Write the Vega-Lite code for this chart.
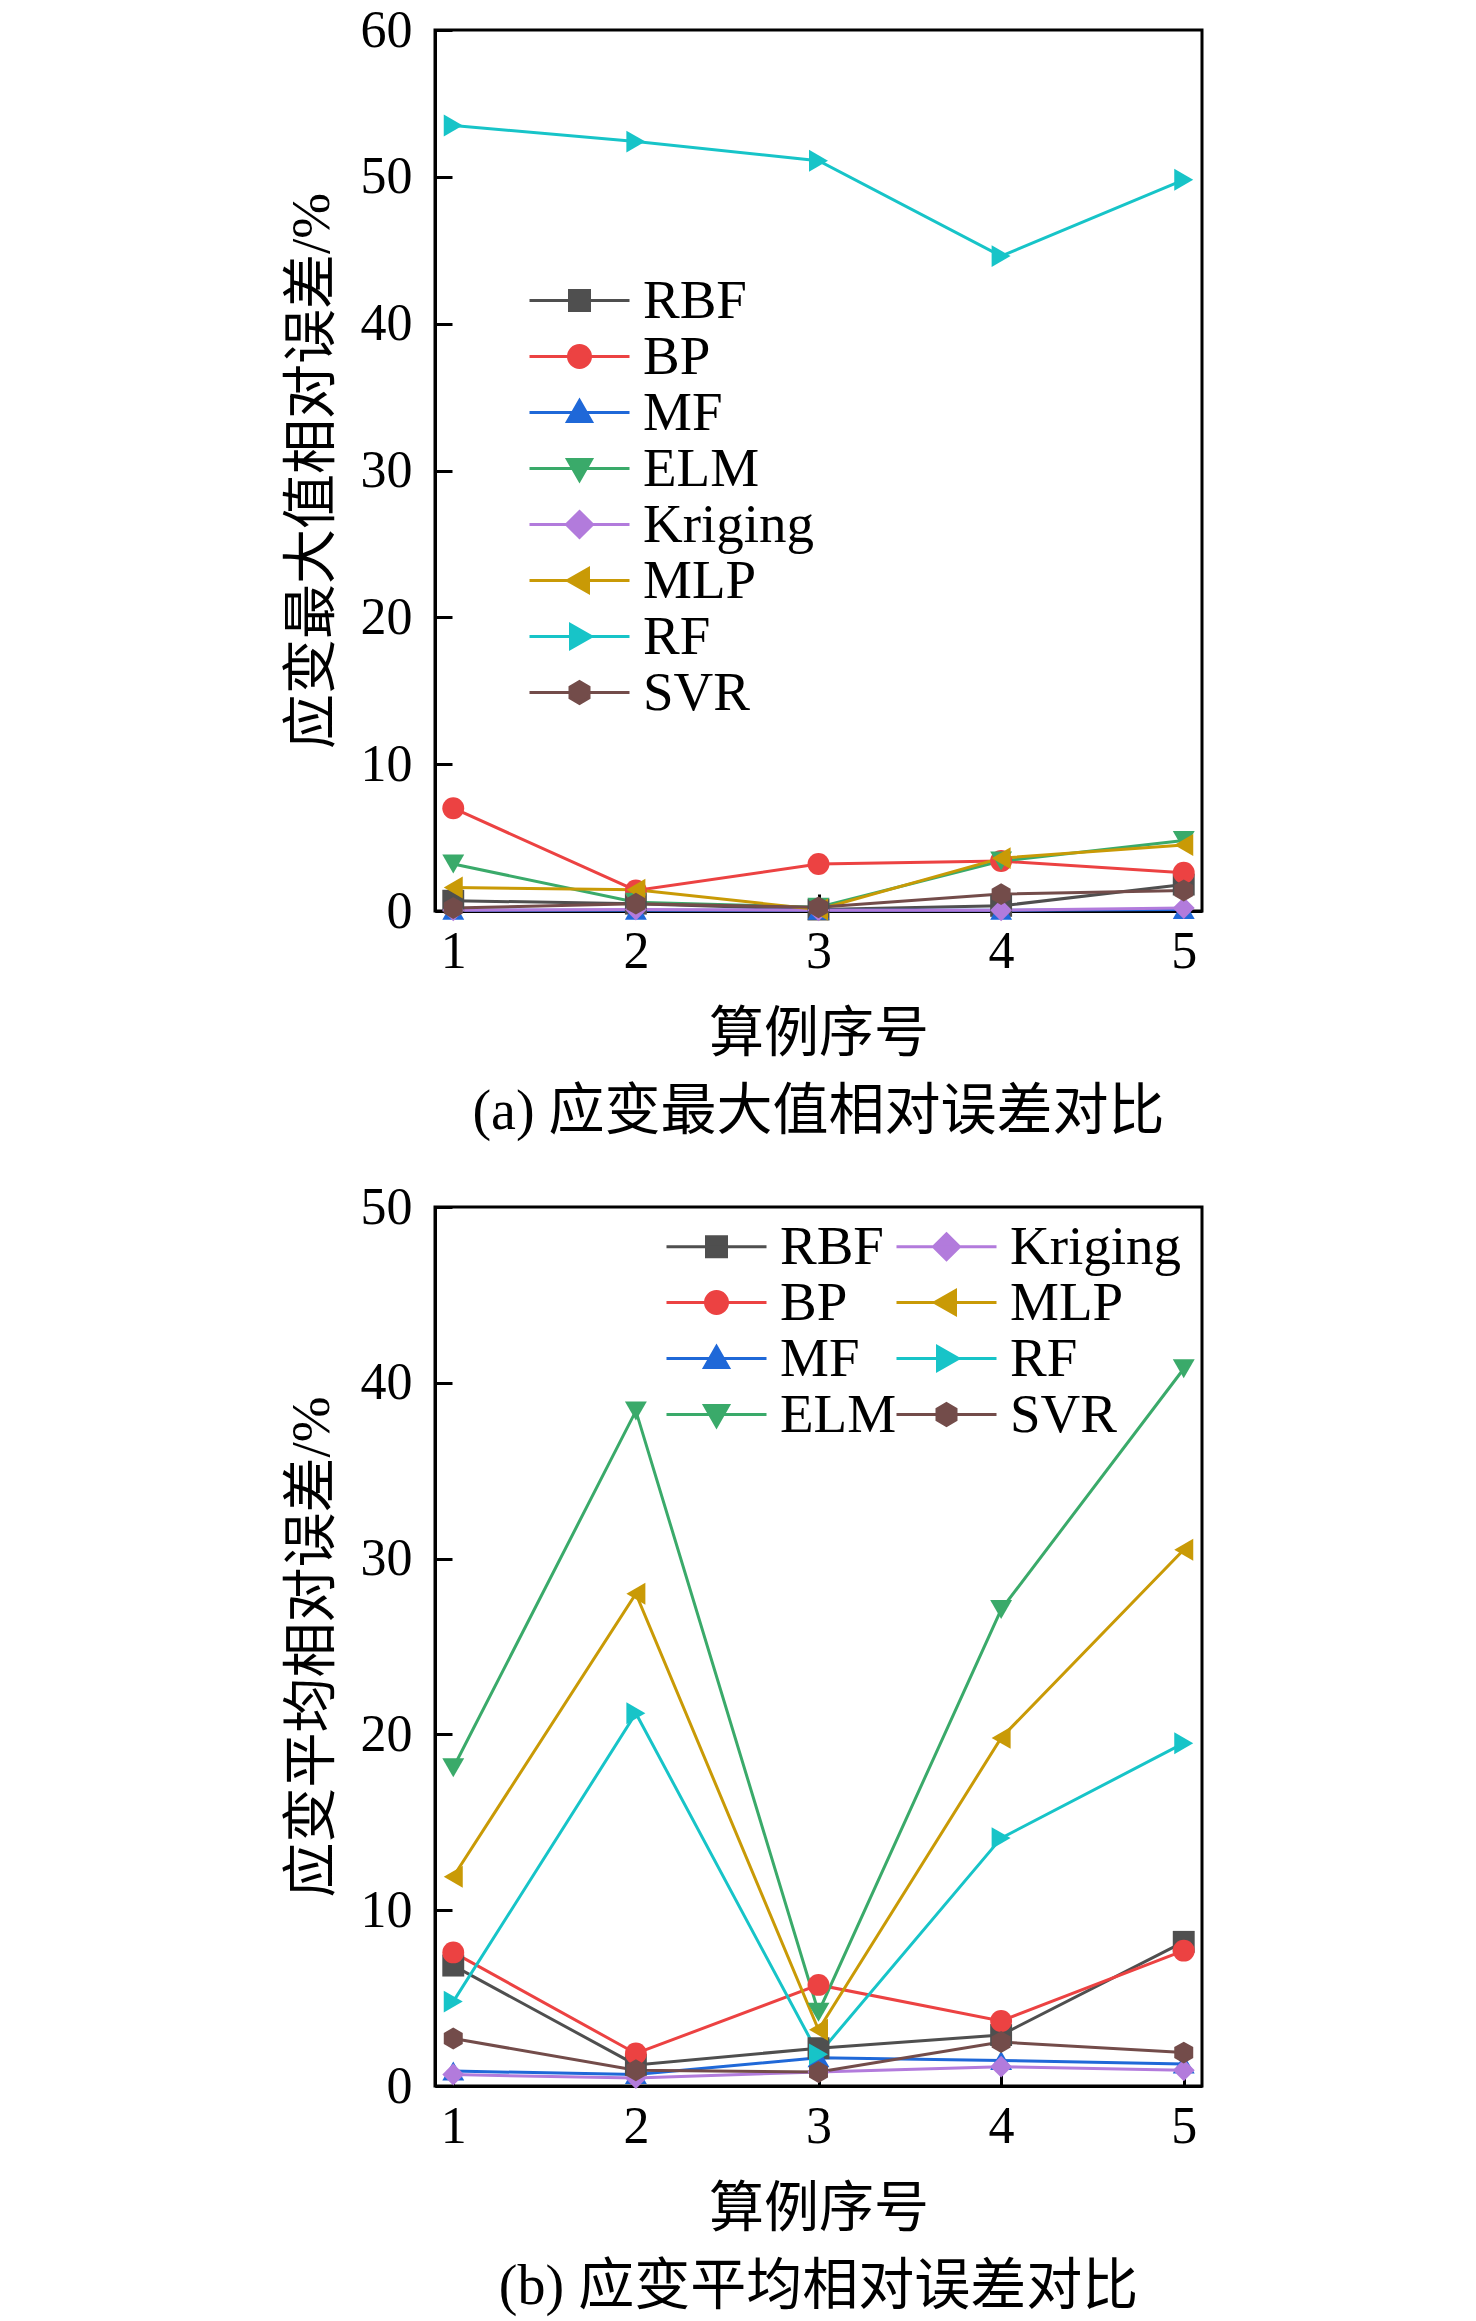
{
  "$schema": "https://vega.github.io/schema/vega-lite/v6.json",
  "autosize": {"type": "pad"},
  "padding": {"left": 282, "top": 2, "right": 0, "bottom": 0},
  "background": "white",
  "spacing": 37,
  "config": {
    "font": "Liberation Serif, Noto Sans CJK SC",
    "view": {"stroke": "black", "strokeWidth": 3},
    "axis": {
      "grid": false,
      "domainColor": "black", "domainWidth": 3,
      "tickColor": "black", "tickWidth": 3, "tickSize": -17,
      "labelFont": "Liberation Serif, Noto Sans CJK SC", "labelFontSize": 52, "labelColor": "black",
      "titleFont": "Liberation Serif, Noto Sans CJK SC", "titleFontSize": 55, "titleFontWeight": "normal", "titleColor": "black"
    },
    "legend": {
      "orient": "none", "title": null, "padding": 0, "gridAlign": "each",
      "symbolSize": 400, "symbolStrokeWidth": 3, "labelOffset": 36, "rowPadding": 0,
      "labelFont": "Liberation Serif, Noto Sans CJK SC", "labelFontSize": 55, "labelColor": "black", "labelLimit": 0
    },
    "title": {"font": "Liberation Serif, Noto Sans CJK SC", "fontSize": 56, "fontWeight": "normal", "color": "black"}
  },
  "datasets": {
    "maxErr": [
      {"model": "RBF", "case": 1, "value": 0.7}, {"model": "RBF", "case": 2, "value": 0.5}, {"model": "RBF", "case": 3, "value": 0.1}, {"model": "RBF", "case": 4, "value": 0.35}, {"model": "RBF", "case": 5, "value": 1.8},
      {"model": "BP", "case": 1, "value": 7.0}, {"model": "BP", "case": 2, "value": 1.4}, {"model": "BP", "case": 3, "value": 3.2}, {"model": "BP", "case": 4, "value": 3.4}, {"model": "BP", "case": 5, "value": 2.6},
      {"model": "MF", "case": 1, "value": 0.05}, {"model": "MF", "case": 2, "value": 0.05}, {"model": "MF", "case": 3, "value": 0.05}, {"model": "MF", "case": 4, "value": 0.05}, {"model": "MF", "case": 5, "value": 0.1},
      {"model": "ELM", "case": 1, "value": 3.2}, {"model": "ELM", "case": 2, "value": 0.6}, {"model": "ELM", "case": 3, "value": 0.25}, {"model": "ELM", "case": 4, "value": 3.4}, {"model": "ELM", "case": 5, "value": 4.8},
      {"model": "Kriging", "case": 1, "value": 0.05}, {"model": "Kriging", "case": 2, "value": 0.1}, {"model": "Kriging", "case": 3, "value": 0.05}, {"model": "Kriging", "case": 4, "value": 0.05}, {"model": "Kriging", "case": 5, "value": 0.2},
      {"model": "MLP", "case": 1, "value": 1.6}, {"model": "MLP", "case": 2, "value": 1.45}, {"model": "MLP", "case": 3, "value": 0.1}, {"model": "MLP", "case": 4, "value": 3.6}, {"model": "MLP", "case": 5, "value": 4.5},
      {"model": "RF", "case": 1, "value": 53.5}, {"model": "RF", "case": 2, "value": 52.4}, {"model": "RF", "case": 3, "value": 51.1}, {"model": "RF", "case": 4, "value": 44.6}, {"model": "RF", "case": 5, "value": 49.8},
      {"model": "SVR", "case": 1, "value": 0.2}, {"model": "SVR", "case": 2, "value": 0.5}, {"model": "SVR", "case": 3, "value": 0.25}, {"model": "SVR", "case": 4, "value": 1.15}, {"model": "SVR", "case": 5, "value": 1.4}
    ],
    "meanErr": [
      {"model": "RBF", "case": 1, "value": 6.85}, {"model": "RBF", "case": 2, "value": 1.2}, {"model": "RBF", "case": 3, "value": 2.15}, {"model": "RBF", "case": 4, "value": 2.9}, {"model": "RBF", "case": 5, "value": 8.2},
      {"model": "BP", "case": 1, "value": 7.6}, {"model": "BP", "case": 2, "value": 1.85}, {"model": "BP", "case": 3, "value": 5.75}, {"model": "BP", "case": 4, "value": 3.7}, {"model": "BP", "case": 5, "value": 7.7},
      {"model": "MF", "case": 1, "value": 0.85}, {"model": "MF", "case": 2, "value": 0.65}, {"model": "MF", "case": 3, "value": 1.6}, {"model": "MF", "case": 4, "value": 1.45}, {"model": "MF", "case": 5, "value": 1.25},
      {"model": "ELM", "case": 1, "value": 18.1}, {"model": "ELM", "case": 2, "value": 38.4}, {"model": "ELM", "case": 3, "value": 4.2}, {"model": "ELM", "case": 4, "value": 27.1}, {"model": "ELM", "case": 5, "value": 40.8},
      {"model": "Kriging", "case": 1, "value": 0.65}, {"model": "Kriging", "case": 2, "value": 0.45}, {"model": "Kriging", "case": 3, "value": 0.8}, {"model": "Kriging", "case": 4, "value": 1.1}, {"model": "Kriging", "case": 5, "value": 0.9},
      {"model": "MLP", "case": 1, "value": 11.9}, {"model": "MLP", "case": 2, "value": 28.0}, {"model": "MLP", "case": 3, "value": 3.2}, {"model": "MLP", "case": 4, "value": 19.8}, {"model": "MLP", "case": 5, "value": 30.5},
      {"model": "RF", "case": 1, "value": 4.8}, {"model": "RF", "case": 2, "value": 21.2}, {"model": "RF", "case": 3, "value": 1.8}, {"model": "RF", "case": 4, "value": 14.1}, {"model": "RF", "case": 5, "value": 19.5},
      {"model": "SVR", "case": 1, "value": 2.7}, {"model": "SVR", "case": 2, "value": 0.9}, {"model": "SVR", "case": 3, "value": 0.8}, {"model": "SVR", "case": 4, "value": 2.5}, {"model": "SVR", "case": 5, "value": 1.9}
    ]
  },
  "vconcat": [
    {
      "width": 767,
      "height": 881,
      "data": {"name": "maxErr"},
      "title": {"text": "(a) 应变最大值相对误差对比", "orient": "bottom", "frame": "group", "anchor": "middle", "offset": 24},
      "encoding": {
        "x": {
          "field": "case", "type": "quantitative",
          "scale": {"domain": [0.9, 5.1], "nice": false},
          "axis": {"values": [1, 2, 3, 4, 5], "format": "d", "title": "算例序号", "labelPadding": 32, "titlePadding": 30}
        },
        "y": {
          "field": "value", "type": "quantitative",
          "scale": {"domain": [0, 60], "nice": false},
          "axis": {"values": [0, 10, 20, 30, 40, 50, 60], "title": "应变最大值相对误差/%", "labelPadding": 40, "titlePadding": 20}
        },
        "color": {
          "field": "model", "type": "nominal",
          "scale": {
            "domain": ["RBF", "BP", "MF", "ELM", "Kriging", "MLP", "RF", "SVR"],
            "range": ["#4f4f4f", "#ec4242", "#1f68d8", "#3aaa6a", "#b27bdc", "#c99a06", "#17c4c8", "#734c4a"]
          },
          "legend": {
            "legendX": 117, "legendY": 243,
            "encoding": {
              "symbols": {
                "shape": {"value": {"expr": "{'RBF':'M-5,0H5M-1,-1H1V1H-1Z','BP':'M-5,0H5M-1.1,0A1.1,1.1 0 1,1 1.1,0A1.1,1.1 0 1,1 -1.1,0Z','MF':'M-5,0H5M0,-1.2L1.2,0.9L-1.2,0.9Z','ELM':'M-5,0H5M-1.2,-0.9L1.2,-0.9L0,1.2Z','Kriging':'M-5,0H5M0,-1.3L1.3,0L0,1.3L-1.3,0Z','MLP':'M-5,0H5M-1.2,0L0.9,-1.2L0.9,1.2Z','RF':'M-5,0H5M1.2,0L-0.9,-1.2L-0.9,1.2Z','SVR':'M-5,0H5M0,-1.1L0.95,-0.55L0.95,0.55L0,1.1L-0.95,0.55L-0.95,-0.55Z'}[datum.value]"}},
                "fill": {"value": {"expr": "{'RBF':'#4f4f4f','BP':'#ec4242','MF':'#1f68d8','ELM':'#3aaa6a','Kriging':'#b27bdc','MLP':'#c99a06','RF':'#17c4c8','SVR':'#734c4a'}[datum.value]"}},
                "stroke": {"value": {"expr": "{'RBF':'#4f4f4f','BP':'#ec4242','MF':'#1f68d8','ELM':'#3aaa6a','Kriging':'#b27bdc','MLP':'#c99a06','RF':'#17c4c8','SVR':'#734c4a'}[datum.value]"}},
                "strokeWidth": {"value": 3},
                "opacity": {"value": 1}
              }
            }
          }
        }
      },
      "layer": [
        {"mark": {"type": "line", "strokeWidth": 3}},
        {
          "mark": {"type": "point", "filled": true, "size": 480, "opacity": 1},
          "encoding": {
            "shape": {
              "field": "model", "type": "nominal", "legend": null,
              "scale": {
                "domain": ["RBF", "BP", "MF", "ELM", "Kriging", "MLP", "RF", "SVR"],
                "range": ["square", "circle", "triangle-up", "triangle-down", "diamond", "triangle-left", "triangle-right", "M0,-1L0.866,-0.5L0.866,0.5L0,1L-0.866,0.5L-0.866,-0.5Z"]
              }
            }
          }
        }
      ]
    },
    {
      "width": 767,
      "height": 879,
      "data": {"name": "meanErr"},
      "title": {"text": "(b) 应变平均相对误差对比", "orient": "bottom", "frame": "group", "anchor": "middle", "offset": 24},
      "encoding": {
        "x": {
          "field": "case", "type": "quantitative",
          "scale": {"domain": [0.9, 5.1], "nice": false},
          "axis": {"values": [1, 2, 3, 4, 5], "format": "d", "title": "算例序号", "labelPadding": 32, "titlePadding": 30}
        },
        "y": {
          "field": "value", "type": "quantitative",
          "scale": {"domain": [0, 50], "nice": false},
          "axis": {"values": [0, 10, 20, 30, 40, 50], "title": "应变平均相对误差/%", "labelPadding": 40, "titlePadding": 20}
        },
        "color": {
          "field": "model", "type": "nominal",
          "scale": {
            "domain": ["RBF", "BP", "MF", "ELM", "Kriging", "MLP", "RF", "SVR"],
            "range": ["#4f4f4f", "#ec4242", "#1f68d8", "#3aaa6a", "#b27bdc", "#c99a06", "#17c4c8", "#734c4a"]
          },
          "legend": {
            "legendX": 254, "legendY": 12, "columns": 2, "columnPadding": -7,
            "encoding": {
              "symbols": {
                "shape": {"value": {"expr": "{'RBF':'M-5,0H5M-1,-1H1V1H-1Z','BP':'M-5,0H5M-1.1,0A1.1,1.1 0 1,1 1.1,0A1.1,1.1 0 1,1 -1.1,0Z','MF':'M-5,0H5M0,-1.2L1.2,0.9L-1.2,0.9Z','ELM':'M-5,0H5M-1.2,-0.9L1.2,-0.9L0,1.2Z','Kriging':'M-5,0H5M0,-1.3L1.3,0L0,1.3L-1.3,0Z','MLP':'M-5,0H5M-1.2,0L0.9,-1.2L0.9,1.2Z','RF':'M-5,0H5M1.2,0L-0.9,-1.2L-0.9,1.2Z','SVR':'M-5,0H5M0,-1.1L0.95,-0.55L0.95,0.55L0,1.1L-0.95,0.55L-0.95,-0.55Z'}[datum.value]"}},
                "fill": {"value": {"expr": "{'RBF':'#4f4f4f','BP':'#ec4242','MF':'#1f68d8','ELM':'#3aaa6a','Kriging':'#b27bdc','MLP':'#c99a06','RF':'#17c4c8','SVR':'#734c4a'}[datum.value]"}},
                "stroke": {"value": {"expr": "{'RBF':'#4f4f4f','BP':'#ec4242','MF':'#1f68d8','ELM':'#3aaa6a','Kriging':'#b27bdc','MLP':'#c99a06','RF':'#17c4c8','SVR':'#734c4a'}[datum.value]"}},
                "strokeWidth": {"value": 3},
                "opacity": {"value": 1}
              }
            }
          }
        }
      },
      "layer": [
        {"mark": {"type": "line", "strokeWidth": 3}},
        {
          "mark": {"type": "point", "filled": true, "size": 480, "opacity": 1},
          "encoding": {
            "shape": {
              "field": "model", "type": "nominal", "legend": null,
              "scale": {
                "domain": ["RBF", "BP", "MF", "ELM", "Kriging", "MLP", "RF", "SVR"],
                "range": ["square", "circle", "triangle-up", "triangle-down", "diamond", "triangle-left", "triangle-right", "M0,-1L0.866,-0.5L0.866,0.5L0,1L-0.866,0.5L-0.866,-0.5Z"]
              }
            }
          }
        }
      ]
    }
  ],
  "resolve": {"scale": {"color": "independent"}, "legend": {"color": "independent"}}
}
